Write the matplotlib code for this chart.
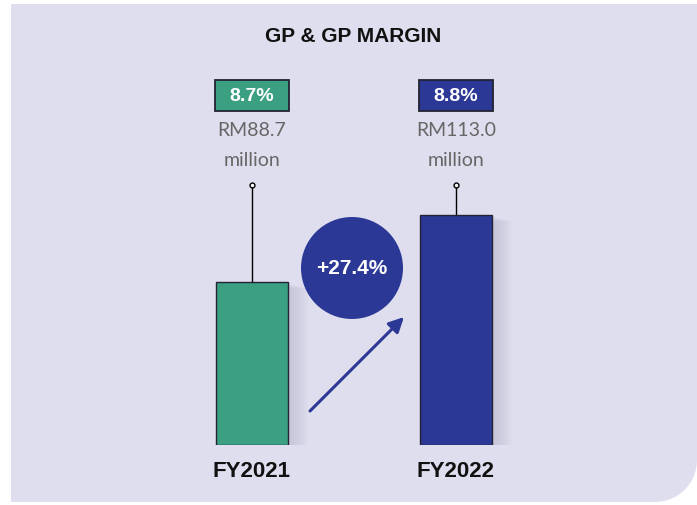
import numpy as np
import matplotlib
matplotlib.use('Agg')
import matplotlib.pyplot as plt
from matplotlib.patches import Circle, PathPatch, Rectangle
from matplotlib.path import Path
from matplotlib.transforms import blended_transform_factory

# Data
years = ['FY2021', 'FY2022']
gp_rm_mil = [88.7, 113.0]
gp_margin = ['8.7%', '8.8%']
growth = '+27.4%'
bar_colors = ['#3ba082', '#2b3896']

W, H = 697, 506
fig = plt.figure(figsize=(W / 100, H / 100), dpi=100)
fig.patch.set_facecolor('white')

bold_font = ['Liberation Sans', 'DejaVu Sans']
light_font = ['Lato', 'DejaVu Sans']

# background overlay in pixel coords
bg = fig.add_axes([0, 0, 1, 1])
bg.set_xlim(0, W)
bg.set_ylim(H, 0)
bg.axis('off')

# panel with rounded bottom-right corner
x0, y0, x1, y1, r = 11, 5, 697, 503, 42
t = np.linspace(0, np.pi / 2, 20)
arc = [(x1 - r + r * np.cos(a), y1 - r + r * np.sin(a)) for a in t]
verts = [(x0, y0), (x1, y0)] + arc + [(x0, y1), (x0, y0)]
codes = [Path.MOVETO] + [Path.LINETO] * (len(verts) - 2) + [Path.CLOSEPOLY]
bg.add_patch(PathPatch(Path(verts, codes), facecolor='#dfdeee', edgecolor='none'))

bg.text(353, 36, 'GP & GP MARGIN', ha='center', va='center', fontsize=15,
        fontweight='bold', family=bold_font, color='#111111')

# growth bubble and arrow
bg.add_patch(Circle((352, 269), 51, facecolor='#2b3896', edgecolor='none'))
bg.text(352, 269, growth, ha='center', va='center', color='white', fontsize=15,
        fontweight='bold', family=bold_font)
bg.annotate('', xy=(404, 318), xytext=(310, 412),
            arrowprops=dict(arrowstyle='-|>,head_length=0.9,head_width=0.45',
                            color='#2b3896', lw=2.2, shrinkA=0, shrinkB=0))

# bars axis: baseline at pixel 446, top at pixel 186
ax = fig.add_axes([150 / W, (H - 446) / H, 408 / W, 260 / H])
ax.set_xlim(-0.5, 1.5)
base = 29.6
ax.set_ylim(base, base + 260 / 2.757)
ax.axis('off')
ax.patch.set_alpha(0)

x = np.arange(len(years))
bw = 72 / 204

# soft shadow
for k in range(10):
    off = (k + 1) * 1.0 / 204
    ax.bar(x + off, [v - base + 0.3 * k for v in gp_rm_mil], width=bw + off * 2,
           bottom=base - 0.5 * (k + 1), color='#6a6a80', alpha=0.018, edgecolor='none', zorder=1)

ax.bar(x, [v - base for v in gp_rm_mil], width=bw, bottom=base, color=bar_colors,
       edgecolor='#222233', linewidth=1.0, zorder=3)

tr = blended_transform_factory(ax.transData, ax.transAxes)
for i, v in enumerate(gp_rm_mil):
    ax.plot([x[i], x[i]], [v, ax.get_ylim()[1]], color='black', lw=1, zorder=2, clip_on=False)
    ax.plot([x[i]], [ax.get_ylim()[1]], marker='o', ms=3.5, mfc='white', mec='black', mew=1,
            clip_on=False, zorder=4)
    ax.add_patch(Rectangle((x[i] - 0.179, 1.343 - 0.0595), 0.358, 0.119, transform=tr,
                           facecolor=bar_colors[i], edgecolor='#222233', lw=1.3, clip_on=False))
    ax.text(x[i], 1.343, gp_margin[i], transform=tr, ha='center', va='center', color='white',
            fontsize=14, fontweight='bold', family=bold_font)
    ax.text(x[i], 1.215, f'RM{v:.1f}', transform=tr, ha='center', va='center', color='#666666',
            fontsize=14, family=light_font)
    ax.text(x[i], 1.10, 'million', transform=tr, ha='center', va='center', color='#666666',
            fontsize=14, family=light_font)
    ax.text(x[i], -0.098, years[i], transform=tr, ha='center', va='center', color='#111111',
            fontsize=16, fontweight='bold', family=bold_font)

fig.savefig('out.png', dpi=100)
